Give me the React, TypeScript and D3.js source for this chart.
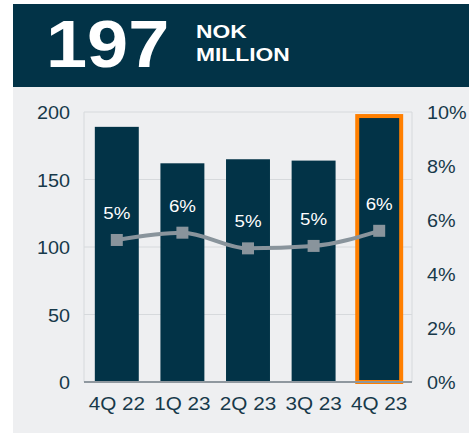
import React from "react";
import * as d3 from "d3";

const categories = ["4Q 22", "1Q 23", "2Q 23", "3Q 23", "4Q 23"];
const amounts = [189, 162, 165, 164, 197];
const margins = [5.26, 5.53, 4.95, 5.04, 5.6];
const marginLabels = ["5%", "6%", "5%", "5%", "6%"];
const leftTicks = [0, 50, 100, 150, 200];
const rightTicks = [0, 2, 4, 6, 8, 10];
const headline = "197";
const unitLines = ["NOK", "MILLION"];

const W = 469;
const H = 433;
const plot = { left: 84, right: 412, top: 112, bottom: 382 };
const dark = "#023347";
const textColor = "#17394a";
const font = "'Liberation Sans', Arial, sans-serif";

type TProps = {
  x: number;
  y: number;
  sx?: number;
  size: number;
  anchor?: "start" | "middle" | "end";
  fill: string;
  bold?: boolean;
  children: React.ReactNode;
};

function T({ x, y, sx = 1.1, size, anchor = "start", fill, bold, children }: TProps) {
  return (
    <text
      transform={`translate(${x},${y}) scale(${sx},1)`}
      fill={fill}
      fontSize={size}
      fontWeight={bold ? "bold" : "normal"}
      textAnchor={anchor}
    >
      {children}
    </text>
  );
}

export default function App() {
  const x = d3.scaleBand<string>().domain(categories).range([plot.left, plot.right]).paddingInner(0.33).paddingOuter(0.165);
  const y = d3.scaleLinear().domain([0, 200]).range([plot.bottom, plot.top]);
  const y2 = d3.scaleLinear().domain([0, 10]).range([plot.bottom, plot.top]);
  const cx = (c: string) => (x(c) as number) + x.bandwidth() / 2;
  const line = d3
    .line<number>()
    .x((_, i) => cx(categories[i]))
    .y((d) => y2(d))
    .curve(d3.curveMonotoneX);

  return (
    <svg width={W} height={H} style={{ position: "absolute", left: 0, top: 0 }} fontFamily={font}>
      <rect x={13} y={87} width={W - 13} height={H - 87} fill="#eeeff1" />
      <rect x={13} y={4} width={W - 13} height={83} fill={dark} />
      <T x={46} y={67} size={66} sx={1.12} fill="#fff" bold>
        {headline}
      </T>
      {unitLines.map((t, i) => (
        <T key={t} x={196} y={38 + i * 23} size={19} sx={1.2} fill="#fff" bold>
          {t}
        </T>
      ))}
      {/* gridlines */}
      {leftTicks.filter((t) => t > 0).map((t) => (
        <line key={t} x1={plot.left} x2={plot.right} y1={y(t)} y2={y(t)} stroke="#d6d9dc" strokeWidth={1} />
      ))}
      <line x1={plot.left} x2={plot.left} y1={plot.top} y2={plot.bottom} stroke="#d6d9dc" />
      <line x1={plot.right} x2={plot.right} y1={plot.top} y2={plot.bottom} stroke="#d6d9dc" />
      {/* bars */}
      {categories.map((c, i) => (
        <rect
          key={c}
          x={x(c)}
          y={y(amounts[i])}
          width={x.bandwidth()}
          height={y(0) - y(amounts[i])}
          fill={dark}
          stroke={i === categories.length - 1 ? "#ff7f00" : "none"}
          strokeWidth={4}
        />
      ))}
      <line x1={plot.left} x2={plot.right} y1={plot.bottom} y2={plot.bottom} stroke="#8f989f" strokeWidth={2} />
      {/* line */}
      <path d={line(margins) as string} fill="none" stroke="#89949c" strokeWidth={4} />
      {margins.map((m, i) => (
        <rect key={i} x={cx(categories[i]) - 6} y={y2(m) - 6} width={12} height={12} fill="#89949c" />
      ))}
      {margins.map((m, i) => (
        <T key={i} x={cx(categories[i])} y={y2(m) - 21} size={17} anchor="middle" fill="#fff">
          {marginLabels[i]}
        </T>
      ))}
      {/* axes labels */}
      {leftTicks.map((t) => (
        <T key={t} x={70} y={y(t) + 7} size={18} anchor="end" fill={textColor}>
          {t}
        </T>
      ))}
      {rightTicks.map((t) => (
        <T key={t} x={427} y={y2(t) + 7} size={18} anchor="start" fill={textColor}>
          {t + "%"}
        </T>
      ))}
      {categories.map((c) => (
        <T key={c} x={cx(c)} y={410} size={18} sx={1.15} anchor="middle" fill={textColor}>
          {c}
        </T>
      ))}
    </svg>
  );
}
